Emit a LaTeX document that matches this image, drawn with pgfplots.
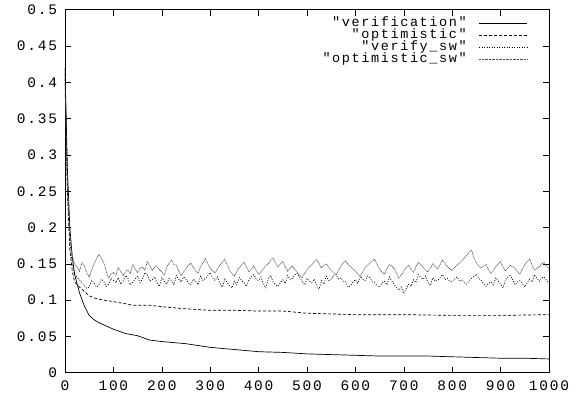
\documentclass[border=0pt]{standalone}
\usepackage{pgfplots}
\pgfplotsset{compat=1.18}
\usepackage{fontspec}
\setmonofont{Liberation Mono}[LetterSpace=12]
\begin{document}
\ttfamily\fontsize{14.5bp}{16bp}\selectfont
\begin{tikzpicture}[font=\ttfamily]
\begin{axis}[
  scale only axis,
  width=484bp, height=363bp,
  xmin=0, xmax=1000, ymin=0, ymax=0.5,
  xtick={0,100,200,300,400,500,600,700,800,900,1000},
  ytick={0,0.05,0.1,0.15,0.2,0.25,0.3,0.35,0.4,0.45,0.5},
  /pgf/number format/assume math mode=true,
  /pgf/number format/fixed,
  /pgf/number format/precision=2,
  /pgf/number format/1000 sep={},
  scaled y ticks=false,
  tick align=inside,
  major tick length=6bp,
  tick style={black, line width=0.6bp},
  axis line style={line width=0.9bp},
  xticklabel style={yshift=-3bp},
  yticklabel style={xshift=-3bp},
  legend cell align=right,
  legend plot pos=right,
  legend style={draw=none, fill=none, at={(rel axis cs:0.962,0.984)}, anchor=north east,
    font=\ttfamily\fontsize{13.5bp}{15bp}\selectfont,
    nodes={inner xsep=0pt, inner ysep=0pt, text height=8.5bp, text depth=2bp},
    row sep=1.5bp, column sep=12bp},
  legend image code/.code={\draw[#1] (0bp,0bp) -- (48bp,0bp);},
  every axis plot/.append style={line width=0.7bp},
]
\coordinate (sw) at (rel axis cs:0,0);
\coordinate (ne) at (rel axis cs:1,1);
\addplot[black, solid] coordinates {
(0,0.42) (5,0.28) (10,0.2) (15,0.16) (20,0.135) (30,0.11) (40,0.092) (50,0.079) (60,0.073)
(70,0.069) (80,0.066) (100,0.06) (125,0.054) (150,0.051) (175,0.045) (200,0.043) (250,0.04)
(300,0.035) (350,0.032) (400,0.029) (450,0.028) (500,0.026) (550,0.025) (600,0.024)
(650,0.023) (700,0.023) (750,0.023) (800,0.022) (850,0.021) (900,0.02) (950,0.02) (1000,0.019)
};
\addlegendentry{"verification"}
\addplot[black, dash pattern=on 3bp off 2bp] coordinates {
(0,0.42) (5,0.25) (10,0.17) (15,0.14) (20,0.125) (30,0.118) (40,0.112) (50,0.106) (60,0.103)
(80,0.1) (100,0.098) (125,0.095) (140,0.093) (175,0.093) (200,0.091) (250,0.088) (300,0.086)
(350,0.086) (400,0.085) (450,0.085) (500,0.082) (550,0.081) (600,0.08) (700,0.08) (800,0.079)
(900,0.079) (1000,0.08)
};
\addlegendentry{"optimistic"}
\addplot[black, dash pattern=on 1bp off 1.5bp] coordinates {
(0,0.4) (5,0.25) (10,0.18) (15,0.15)
(20,.135) (25,.131) (30,.128) (35,.124) (40,.12) (45,.116) (50,.118) (55,.127) (60,.124) (65,.118)
(70,.121) (75,.129) (80,.126) (85,.119) (90,.122) (95,.13) (100,.127) (105,.124) (110,.131) (115,.122)
(120,.126) (125,.134) (130,.13) (135,.121) (140,.125) (145,.129) (150,.133) (155,.124) (160,.129) (165,.138)
(170,.135) (175,.126) (180,.128) (185,.132) (190,.124) (195,.119) (200,.131) (205,.126) (210,.122) (215,.13)
(220,.127) (225,.121) (230,.134) (235,.129) (240,.125) (245,.132) (250,.129) (255,.124) (260,.121) (265,.129)
(270,.126) (275,.121) (280,.133) (285,.127) (290,.13) (295,.134) (300,.138) (305,.131) (310,.127) (315,.132)
(320,.123) (325,.118) (330,.129) (335,.124) (340,.12) (345,.117) (350,.126) (355,.121) (360,.131) (365,.127)
(370,.124) (375,.119) (380,.128) (385,.132) (390,.135) (395,.129) (400,.127) (405,.132) (410,.121) (415,.117)
(420,.13) (425,.134) (430,.125) (435,.122) (440,.119) (445,.124) (450,.128) (455,.123) (460,.134) (465,.128)
(470,.13) (475,.135) (480,.137) (485,.131) (490,.126) (495,.121) (500,.13) (505,.126) (510,.124) (515,.129)
(520,.119) (525,.115) (530,.127) (535,.122) (540,.133) (545,.127) (550,.129) (555,.134) (560,.136) (565,.129)
(570,.131) (575,.126) (580,.125) (585,.118) (590,.12) (595,.125) (600,.128) (605,.123) (610,.133) (615,.129)
(620,.127) (625,.133) (630,.131) (635,.125) (640,.124) (645,.12) (650,.118) (655,.124) (660,.126) (665,.121)
(670,.132) (675,.127) (680,.122) (685,.117) (690,.114) (695,.118) (700,.109) (705,.116) (710,.122) (715,.119)
(720,.128) (725,.124) (730,.135) (735,.131) (740,.129) (745,.133) (750,.124) (755,.12) (760,.131) (765,.126)
(770,.127) (775,.131) (780,.135) (785,.128) (790,.13) (795,.126) (800,.125) (805,.129) (810,.132) (815,.126)
(820,.128) (825,.124) (830,.122) (835,.127) (840,.13) (845,.133) (850,.136) (855,.13) (860,.127) (865,.122)
(870,.119) (875,.123) (880,.125) (885,.121) (890,.131) (895,.127) (900,.122) (905,.117) (910,.128) (915,.132)
(920,.134) (925,.128) (930,.121) (935,.125) (940,.127) (945,.123) (950,.118) (955,.124) (960,.129) (965,.125)
(970,.135) (975,.13) (980,.126) (985,.131) (990,.132) (995,.127) (1000,.124)
};
\addlegendentry{"verify\_sw"}
\addplot[black!70, dash pattern=on 0.7bp off 0.7bp] coordinates {
(0,0.4) (5,0.26) (10,0.19) (15,0.16)
(20,.15) (25,.146) (30,.14) (35,.152) (40,.147) (45,.138) (50,.132) (55,.141) (60,.15) (65,.157)
(70,.163) (75,.158) (80,.152) (85,.14) (90,.13) (95,.136) (100,.138) (105,.134) (110,.145) (115,.14)
(120,.134) (125,.139) (130,.142) (135,.137) (140,.149) (145,.143) (150,.138) (155,.144) (160,.146) (165,.141)
(170,.153) (175,.148) (180,.141) (185,.145) (190,.147) (195,.142) (200,.139) (205,.134) (210,.145) (215,.151)
(220,.155) (225,.149) (230,.148) (235,.14) (240,.134) (245,.139) (250,.143) (255,.148) (260,.151) (265,.145)
(270,.14) (275,.137) (280,.146) (285,.151) (290,.157) (295,.15) (300,.144) (305,.14) (310,.137) (315,.143)
(320,.148) (325,.153) (330,.156) (335,.149) (340,.141) (345,.137) (350,.133) (355,.139) (360,.145) (365,.149)
(370,.152) (375,.146) (380,.139) (385,.143) (390,.147) (395,.141) (400,.136) (405,.139) (410,.143) (415,.148)
(420,.15) (425,.155) (430,.158) (435,.151) (440,.146) (445,.15) (450,.153) (455,.146) (460,.14) (465,.144)
(470,.147) (475,.142) (480,.138) (485,.134) (490,.131) (495,.137) (500,.142) (505,.146) (510,.149) (515,.153)
(520,.156) (525,.15) (530,.144) (535,.148) (540,.15) (545,.145) (550,.141) (555,.138) (560,.135) (565,.141)
(570,.147) (575,.151) (580,.154) (585,.149) (590,.146) (595,.143) (600,.14) (605,.136) (610,.133) (615,.139)
(620,.145) (625,.148) (630,.151) (635,.154) (640,.156) (645,.149) (650,.143) (655,.139) (660,.136) (665,.143)
(670,.149) (675,.147) (680,.144) (685,.137) (690,.13) (695,.135) (700,.14) (705,.145) (710,.148) (715,.142)
(720,.138) (725,.146) (730,.152) (735,.149) (740,.145) (745,.141) (750,.139) (755,.144) (760,.15) (765,.146)
(770,.143) (775,.149) (780,.155) (785,.151) (790,.146) (795,.143) (800,.141) (805,.145) (810,.148) (815,.151)
(820,.154) (825,.158) (830,.162) (835,.166) (840,.169) (845,.158) (850,.151) (855,.147) (860,.144) (865,.147)
(870,.149) (875,.142) (880,.137) (885,.141) (890,.146) (895,.15) (900,.153) (905,.146) (910,.14) (915,.145)
(920,.148) (925,.146) (930,.144) (935,.139) (940,.136) (945,.143) (950,.149) (955,.153) (960,.157) (965,.148)
(970,.141) (975,.144) (980,.146) (985,.15) (990,.152) (995,.147) (1000,.143)
};
\addlegendentry{"optimistic\_sw"}
\end{axis}
\path ([shift={(-65bp,-35bp)}]sw) rectangle ([shift={(28bp,5bp)}]ne);
\end{tikzpicture}
\end{document}
